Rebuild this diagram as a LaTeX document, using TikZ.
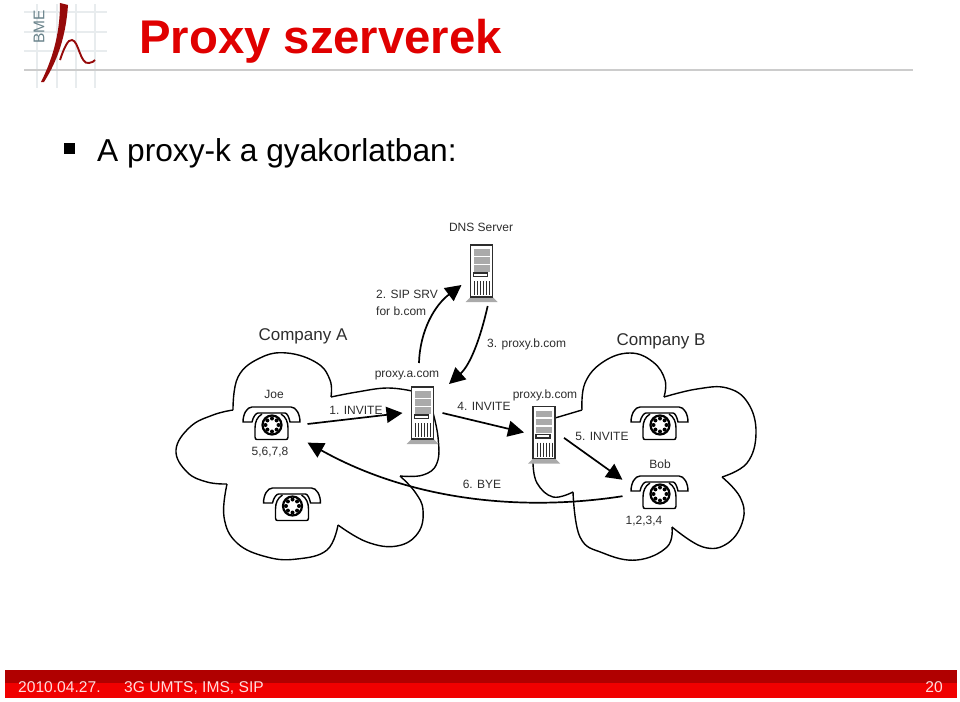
\documentclass[tikz,border=0pt]{standalone}
\usepackage{fontspec}
\setmainfont{Liberation Sans}
\usepackage{tikz}
\usetikzlibrary{arrows.meta,shapes}
\definecolor{foreground}{RGB}{0,0,0}
\definecolor{labeltext}{RGB}{45,45,45}
\definecolor{bmered}{RGB}{224,0,0}
\definecolor{bmedark}{RGB}{150,10,10}
\definecolor{bmegrey}{RGB}{105,130,138}
\definecolor{barlight}{RGB}{240,0,0}
\definecolor{bardark}{RGB}{176,0,0}
\definecolor{footertext}{RGB}{255,220,220}
\definecolor{gridline}{RGB}{232,236,238}
\definecolor{racksilver}{RGB}{170,170,170}
\tikzset{
  lbl/.style={inner sep=0pt,text=labeltext,font=\fontsize{12}{12}\selectfont},
  companylbl/.style={lbl,font=\fontsize{17}{17}\selectfont},
  cloud/.style={foreground,line width=1.4pt},
  msg/.style={foreground,line width=1.7pt,-{Triangle[length=16pt,width=16pt]}},
  phonebox/.style={minimum width=57pt,minimum height=33pt,inner sep=0pt,outer sep=8pt},
  rackbox/.style={minimum width=22pt,minimum height=52pt,inner sep=0pt,outer sep=9pt},
  footer/.style={inner sep=0pt,anchor=base west,text=footertext,font=\fontsize{15.6}{16}\selectfont}
}
\newcommand{\lobe}[1]{\draw[cloud] plot[smooth,tension=0.7] coordinates {#1};}
\newcommand{\phone}[3]{%
  \node[phonebox] (#1) at (#2,#3) {};
  \begin{scope}[shift={(#2,#3)},foreground,line width=1.4pt]
    \draw (-28,-2) .. controls (-28,-10) and (-24,-17) .. (-19,-17) -- (20,-17)
      .. controls (25,-17) and (29,-10) .. (29,-2) -- (19,-2)
      .. controls (18,-7) and (16,-11) .. (14,-11) -- (-13,-11)
      .. controls (-15,-11) and (-18,-7) .. (-19,-2) -- cycle;
    \draw (-9,-10) .. controls (-14,-7) and (-16,-2) .. (-16,4) -- (-16,13)
      .. controls (-16,15) and (-15,15.5) .. (-14,15.5) -- (15,15.5)
      .. controls (16,15.5) and (17,15) .. (17,13) -- (17,4)
      .. controls (17,-2) and (15,-7) .. (10,-10);
    \draw[line width=2.2pt] (1,1) circle (9.5);
    \foreach \a in {0,45,...,315} {\fill (1,1) ++(\a:6.5) circle (2);}
  \end{scope}
}
\newcommand{\rack}[3]{%
  \node[rackbox] (#1) at (#2,#3) {};
  \begin{scope}[shift={(#2,#3)}]
    \fill[racksilver] (-11,26) -- (11,26) -- (16,31) -- (-16,31) -- cycle;
    \draw[labeltext,fill=white,line width=1.4pt] (-11,-26) rectangle (11,26);
    \foreach \y in {-22,-14,-6} {\fill[racksilver] (-8,\y) rectangle (8,\y+6.5);}
    \draw[labeltext,line width=1.2pt] (-8,2) rectangle (6,5.5);
    \foreach \x in {-7,-4,...,8} {\draw[labeltext,line width=1pt] (\x,10) -- (\x,24);}
  \end{scope}
}

\begin{document}
\begin{tikzpicture}[x=1pt,y=-1pt]
  \useasboundingbox (0,0) rectangle (960,701);

  % logo
  \foreach \x in {37,57,76,95} {\draw[gridline,line width=1.5pt] (\x,4) -- (\x,88);}
  \foreach \y in {12,32,51} {\draw[gridline,line width=1.5pt] (24,\y) -- (107,\y);}
  \draw[black!20,line width=1.5pt] (24,70) -- (913,70);
  \node[inner sep=0pt,rotate=90,text=bmegrey,font=\fontsize{15.5}{16}\selectfont] (bme) at (39,27) {BME};
  \fill[bmedark] (60,3) -- (68,5) .. controls (66,35) and (58,60) .. (44,82) -- (41,82) .. controls (52,60) and (60,35) .. (60,3) -- cycle;
  \draw[bmedark,line width=1.9pt] (60,60) .. controls (64,48) and (68,39) .. (72,40) .. controls (79,41) and (80,65) .. (89,63) .. controls (92,63) and (94,61) .. (95,60);

  % title
  \node[inner sep=0pt,anchor=base west,text=bmered,font=\fontsize{47.3}{48}\selectfont\bfseries] (title) at (139,53) {Proxy szerverek};
  \node[fill=black,inner sep=0pt,minimum size=10.5pt] (bullet) at (69.5,148.5) {};
  \node[inner sep=0pt,anchor=base west,font=\fontsize{31.7}{32}\selectfont] (intro) at (97,161) {A proxy-k a gyakorlatban:};

  % company A
  \lobe{(233,410) (238,377) (260,358) (287,353) (317,363) (330,380) (331,397)}
  \lobe{(331,397) (357,392) (387,388) (412,391)}
  \lobe{(233,410) (213,415) (190,427) (176,450) (187,472) (207,482) (227,484)}
  \lobe{(227,484) (224,517) (237,543) (267,557) (297,559) (327,550) (338,525)}
  \lobe{(338,525) (367,542) (397,546) (418,533) (423,510) (415,492) (400,476)}
  \lobe{(400,476) (423,475) (437,463) (438,437) (432,409)}
  % company B
  \lobe{(555,418) (582,410)}
  \lobe{(582,410) (585,383) (603,362) (630,353) (653,362) (665,380) (664,397)}
  \lobe{(664,397) (697,389) (727,388) (748,403) (756,433) (747,463) (722,477)}
  \lobe{(722,477) (740,497) (743,520) (728,543) (703,547) (672,527)}
  \lobe{(672,527) (667,547) (637,560) (603,553) (580,537) (573,492)}
  \lobe{(573,492) (553,497) (537,483) (533,463)}

  \rack{dns}{481.5}{271}
  \rack{proxya}{422.5}{413}
  \rack{proxyb}{544}{432.5}
  \phone{joe}{271}{424}
  \phone{other}{291.5}{505}
  \phone{idle}{659}{424}
  \phone{bob}{659}{493}

  \node[companylbl] (compa) at (303,336) {Company A};
  \node[companylbl] (compb) at (661,341) {Company B};
  \node[lbl] (dnslbl) at (481,227) {DNS Server};
  \node[lbl] (proxyalbl) at (407,376) {proxy.a.com};
  \node[lbl] (proxyblbl) at (545,395) {proxy.b.com};
  \node[lbl] (joelbl) at (274,394) {Joe};
  \node[lbl] (joenum) at (270,452) {5,6,7,8};
  \node[lbl] (boblbl) at (660,464) {Bob};
  \node[lbl] (bobnum) at (644,521) {1,2,3,4};
  \node[lbl,anchor=west] (srvlbl) at (376,294) {2. SIP SRV};
  \node[lbl,anchor=west] (forlbl) at (376,311) {for b.com};
  \node[lbl,anchor=west] (answerlbl) at (487,344) {3. proxy.b.com};
  \node[lbl] (inva) at (356,410) {1. INVITE};
  \node[lbl] (invb) at (484,406) {4. INVITE};
  \node[lbl] (invc) at (602,436) {5. INVITE};
  \node[lbl] (byelbl) at (482,484) {6. BYE};

  \coordinate (query) at (419,363);
  \coordinate (answer) at (449,384);
  \draw[msg] (joe.east) -- (proxya.west);
  \draw[msg] (query) .. controls (420,330) and (435,305) .. (dns.215);
  \draw[msg] (dns.-80) .. controls (480,340) and (470,365) .. (answer);
  \draw[msg] (proxya.east) -- (proxyb.west);
  \draw[msg] (proxyb.-15) -- (bob.160);
  \draw[msg] (bob.185) .. controls (520,512) and (410,500) .. (joe.-27);

  % footer
  \fill[bardark] (5,670) rectangle (957,683);
  \fill[barlight] (5,683) rectangle (957,698);
  \node[footer] (date) at (18,692) {2010.04.27.};
  \node[footer] (course) at (124,692) {3G UMTS, IMS, SIP};
  \node[footer,anchor=base east] (page) at (943,692) {20};
\end{tikzpicture}
\end{document}
